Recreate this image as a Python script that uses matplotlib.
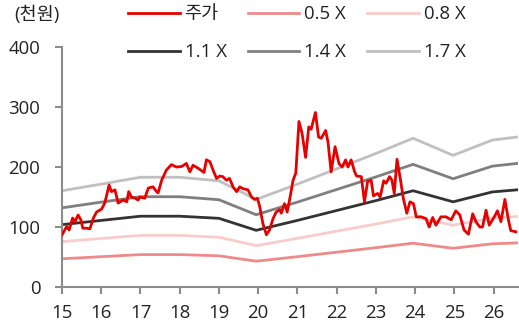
import matplotlib
matplotlib.use("Agg")
import matplotlib.pyplot as plt

plt.rcParams['font.family'] = ['Open Sans', 'Noto Sans CJK KR', 'DejaVu Sans']

# 주가 (천원), 연도는 소수로 표기
price_years = [15.00, 15.12, 15.18, 15.27, 15.33, 15.41, 15.48, 15.53, 15.63, 15.71,
               15.80, 15.88, 16.01, 16.09, 16.20, 16.26, 16.35, 16.43, 16.56, 16.65,
               16.70, 16.77, 16.86, 16.94, 16.98, 17.11, 17.20, 17.32, 17.41, 17.45,
               17.54, 17.66, 17.79, 17.92, 18.05, 18.17, 18.26, 18.34, 18.47, 18.62,
               18.68, 18.77, 18.85, 18.94, 19.02, 19.10, 19.19, 19.27, 19.36, 19.45,
               19.53, 19.61, 19.74, 19.83, 19.91, 19.98, 20.04, 20.12, 20.21, 20.29,
               20.38, 20.46, 20.55, 20.59, 20.67, 20.74, 20.80, 20.89, 20.96, 21.04,
               21.12, 21.21, 21.29, 21.35, 21.46, 21.54, 21.61, 21.72, 21.78, 21.86,
               21.96, 22.06, 22.14, 22.23, 22.29, 22.37, 22.46, 22.51, 22.63, 22.71,
               22.79, 22.88, 22.94, 23.05, 23.11, 23.20, 23.26, 23.35, 23.41, 23.47,
               23.54, 23.63, 23.70, 23.79, 23.87, 23.96, 24.03, 24.15, 24.28, 24.36,
               24.45, 24.53, 24.66, 24.79, 24.92, 25.04, 25.14, 25.25, 25.36, 25.47,
               25.55, 25.65, 25.72, 25.81, 25.89, 26.02, 26.10, 26.19, 26.29, 26.38,
               26.44, 26.57]
price = [87, 101, 95, 115, 109, 120, 112, 98, 98, 97,
         115, 125, 130, 140, 170, 159, 162, 140, 145, 142,
         159, 150, 148, 145, 150, 148, 165, 167, 159, 157,
         178, 195, 204, 200, 201, 206, 192, 203, 198, 191,
         212, 209, 195, 181, 185, 184, 178, 181, 167, 159,
         167, 164, 162, 150, 146, 148, 134, 106, 87, 95,
         114, 125, 129, 123, 139, 125, 145, 178, 190, 276,
         256, 216, 267, 263, 291, 250, 248, 261, 242, 192,
         234, 206, 200, 212, 200, 212, 192, 185, 184, 142,
         176, 178, 152, 156, 150, 177, 173, 184, 178, 156,
         213, 178, 148, 123, 142, 139, 117, 117, 114, 100,
         116, 103, 117, 117, 112, 127, 120, 95, 88, 122,
         109, 100, 100, 128, 103, 117, 127, 109, 146, 112,
         94, 92]

# PBR 밴드
band_years = [15.0, 16.0, 17.0, 18.0, 19.0, 19.95, 21.0, 22.0, 23.0, 23.95, 24.97, 25.97, 26.6]
band_05 = [47, 50.5, 54, 54, 52, 43, 50.5, 58, 65.5, 73, 64.5, 72, 73.5]
band_08 = [75.5, 81, 86, 86, 83, 69, 81, 93, 105, 117, 103, 115, 117.5]
band_11 = [104, 111, 118, 118, 114.5, 94.5, 111, 127.5, 144, 160.5, 142, 158.5, 162]
band_14 = [132, 141.5, 150.5, 150.5, 145.5, 120.5, 141.5, 162.5, 183.5, 204.5, 180.5, 201.5, 206]
band_17 = [160.5, 171.5, 183, 183, 177, 146, 171.5, 197, 222.5, 248, 219.5, 245, 250]

x_ticks = [15, 16, 17, 18, 19, 20, 21, 22, 23, 24, 25, 26]
y_ticks = [0, 100, 200, 300, 400]

fs = 13.4

fig = plt.figure(figsize=(5.19, 3.25), dpi=100)
ax = fig.add_axes([0.1195, 0.117, 0.879, 0.738])

lw = 2.0
ax.plot(price_years, price, color="#e60000", lw=lw, label="주가", zorder=5)
ax.plot(band_years, band_05, color="#ee8a8a", lw=lw, label="0.5 X")
ax.plot(band_years, band_08, color="#f9cccc", lw=lw, label="0.8 X")
ax.plot(band_years, band_11, color="#333333", lw=lw, label="1.1 X")
ax.plot(band_years, band_14, color="#7f7f7f", lw=lw, label="1.4 X")
ax.plot(band_years, band_17, color="#c0c0c0", lw=lw, label="1.7 X")

ax.set_xlim(15, 26.63)
ax.set_ylim(0, 400)
ax.set_xticks(x_ticks)
ax.set_yticks(y_ticks)

for s in ["top", "right"]:
    ax.spines[s].set_visible(False)
for s in ["left", "bottom"]:
    ax.spines[s].set_color("#8c8c8c")
    ax.spines[s].set_linewidth(1.5)
ax.tick_params(colors="#8c8c8c", width=1.5, length=5, labelcolor="#222222",
               labelsize=fs)
ax.tick_params(axis="x", pad=7)
ax.tick_params(axis="y", pad=10.5)

fig.text(0.027, 0.953, "(천원)", fontsize=fs, color="#222222", va="center")

handles, labels = ax.get_legend_handles_labels()
order = [0, 3, 1, 4, 2, 5]
leg = fig.legend([handles[i] for i in order], [labels[i] for i in order],
                 loc="upper left", bbox_to_anchor=(0.215, 1.035), ncol=3,
                 frameon=False, fontsize=fs, handlelength=2.75,
                 handletextpad=0.27, columnspacing=1.15, labelspacing=1.07)
for t in leg.get_texts():
    t.set_color("#222222")

fig.savefig("out.png", dpi=100)
